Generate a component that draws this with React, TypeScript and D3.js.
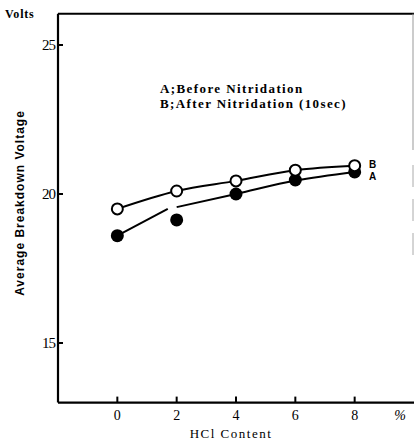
import React, { useEffect, useRef } from "react";
import * as d3 from "d3";

// HCl content (%)
const hclContent = [0, 2, 4, 6, 8];
// A: before nitridation (filled circles)
const beforeNitridation = [18.6, 19.13, 20.0, 20.47, 20.74];
// B: after nitridation 10sec (open circles)
const afterNitridation = [19.5, 20.1, 20.44, 20.8, 20.95];
// fitted curve drawn through A (broken near x=2 in the original print)
const fitA1X = [0, 1.7];
const fitA1Y = [18.6, 19.5];
const fitA2X = [2, 4, 6, 8];
const fitA2Y = [19.56, 20.0, 20.45, 20.74];

const xTicks = [0, 2, 4, 6, 8];
const yTicks = [15, 20, 25];

const App = () => {
  const svgRef = useRef<SVGSVGElement>(null);

  useEffect(() => {
    const svg = d3.select(svgRef.current);
    svg.selectAll("*").remove();

    const serif = "'Liberation Serif', 'DejaVu Serif', serif";
    const sans = "'Liberation Sans', 'DejaVu Sans', sans-serif";

    const x = d3.scaleLinear().domain([-2, 10]).range([58, 414]);
    const y = d3.scaleLinear().domain([15, 25]).range([343, 45]);

    const left = x(-2);
    const right = x(10);
    const top = y(26.05);
    const bottom = y(13);

    // frame
    svg.append("line")
      .attr("x1", left).attr("x2", left).attr("y1", top).attr("y2", bottom)
      .attr("stroke", "#000").attr("stroke-width", 2.2);
    svg.append("line")
      .attr("x1", left).attr("x2", right).attr("y1", bottom).attr("y2", bottom)
      .attr("stroke", "#000").attr("stroke-width", 2.2);
    svg.append("line")
      .attr("x1", left).attr("x2", right).attr("y1", top).attr("y2", top)
      .attr("stroke", "#000").attr("stroke-width", 2);
    // faint right edge
    svg.append("line")
      .attr("x1", 413).attr("x2", 413).attr("y1", top).attr("y2", 150)
      .attr("stroke", "#999").attr("stroke-width", 1);
    svg.append("line")
      .attr("x1", 413).attr("x2", 413).attr("y1", 165).attr("y2", 260)
      .attr("stroke", "#aaa").attr("stroke-width", 1).attr("stroke-dasharray", "22 12");

    // x ticks
    svg.selectAll(".xtick")
      .data(xTicks)
      .join("line")
      .attr("x1", (d) => x(d)).attr("x2", (d) => x(d))
      .attr("y1", bottom).attr("y2", bottom - 6)
      .attr("stroke", "#000").attr("stroke-width", 2);
    svg.selectAll(".xlabel")
      .data(xTicks)
      .join("text")
      .attr("x", (d) => x(d))
      .attr("y", bottom + 17)
      .attr("text-anchor", "middle")
      .attr("font-family", serif)
      .attr("font-size", 14)
      .text((d) => d);
    svg.append("text")
      .attr("x", 400).attr("y", bottom + 17)
      .attr("text-anchor", "middle")
      .attr("font-family", serif).attr("font-size", 14).attr("font-style", "italic")
      .text("%");
    svg.append("text")
      .attr("x", 231).attr("y", bottom + 35)
      .attr("text-anchor", "middle")
      .attr("font-family", serif).attr("font-size", 13).attr("letter-spacing", 1.5)
      .text("HCl Content");

    // y ticks
    svg.selectAll(".ytick")
      .data(yTicks)
      .join("line")
      .attr("x1", left).attr("x2", left + 5)
      .attr("y1", (d) => y(d)).attr("y2", (d) => y(d))
      .attr("stroke", "#000").attr("stroke-width", 2);
    svg.selectAll(".ylabel")
      .data(yTicks)
      .join("text")
      .attr("x", left - 3)
      .attr("y", (d) => y(d))
      .attr("dy", "0.35em")
      .attr("text-anchor", "end")
      .attr("font-family", serif)
      .attr("font-size", 15)
      .attr("letter-spacing", -1)
      .text((d) => d);
    svg.append("text")
      .attr("x", 5).attr("y", 18)
      .attr("font-family", serif).attr("font-size", 12).attr("font-weight", "bold")
      .attr("letter-spacing", 0.8)
      .text("Volts");
    svg.append("text")
      .attr("transform", "translate(24,203) rotate(-90)")
      .attr("text-anchor", "middle")
      .attr("font-family", sans).attr("font-size", 12).attr("font-weight", "bold")
      .attr("letter-spacing", 1)
      .text("Average Breakdown Voltage");

    // legend text
    svg.append("text")
      .attr("x", 160).attr("y", 93)
      .attr("font-family", serif).attr("font-size", 13).attr("font-weight", "bold")
      .attr("letter-spacing", 1.4)
      .text("A;Before Nitridation");
    svg.append("text")
      .attr("x", 160).attr("y", 108)
      .attr("font-family", serif).attr("font-size", 13).attr("font-weight", "bold")
      .attr("letter-spacing", 1.4)
      .text("B;After Nitridation (10sec)");

    const line = d3.line<[number, number]>()
      .x((d) => x(d[0]))
      .y((d) => y(d[1]))
      .curve(d3.curveMonotoneX);

    const bPts = hclContent.map((h, i) => [h, afterNitridation[i]] as [number, number]);
    const a1 = fitA1X.map((h, i) => [h, fitA1Y[i]] as [number, number]);
    const a2 = fitA2X.map((h, i) => [h, fitA2Y[i]] as [number, number]);

    [bPts, a1, a2].forEach((pts) => {
      svg.append("path")
        .attr("d", line(pts))
        .attr("fill", "none")
        .attr("stroke", "#000")
        .attr("stroke-width", 2);
    });

    // markers
    svg.selectAll(".ptA")
      .data(hclContent)
      .join("circle")
      .attr("cx", (d) => x(d))
      .attr("cy", (d, i) => y(beforeNitridation[i]))
      .attr("r", 6.5)
      .attr("fill", "#000");
    svg.selectAll(".ptB")
      .data(hclContent)
      .join("circle")
      .attr("cx", (d) => x(d))
      .attr("cy", (d, i) => y(afterNitridation[i]))
      .attr("r", 5.5)
      .attr("fill", "#fff")
      .attr("stroke", "#000")
      .attr("stroke-width", 2);

    // curve labels
    svg.append("text")
      .attr("x", x(8) + 18).attr("y", y(afterNitridation[4]) + 2)
      .attr("text-anchor", "middle")
      .attr("font-family", sans).attr("font-size", 10).attr("font-weight", "bold")
      .text("B");
    svg.append("text")
      .attr("x", x(8) + 18).attr("y", y(beforeNitridation[4]) + 8)
      .attr("text-anchor", "middle")
      .attr("font-family", sans).attr("font-size", 10).attr("font-weight", "bold")
      .text("A");
  }, []);

  return (
    <svg
      ref={svgRef}
      width={415}
      height={445}
      style={{ position: "absolute", left: 0, top: 0, background: "#fff" }}
    ></svg>
  );
};

export default App;
